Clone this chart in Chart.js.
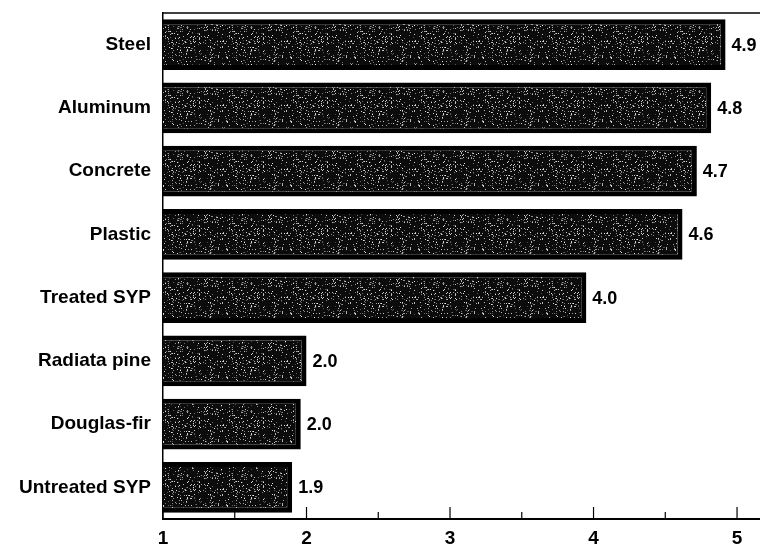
<!DOCTYPE html>
<html>
<head>
<meta charset="utf-8">
<script src="https://cdn.jsdelivr.net/npm/chart.js@4/dist/chart.umd.min.js"></script>
<style>
  html, body { margin: 0; padding: 0; background: #fff; }
  #wrap { width: 760px; height: 545px; }
</style>
</head>
<body>
<div id="wrap"><canvas id="materialsChart" width="760" height="545"></canvas></div>
<script>
// Data
const materials = ['Steel', 'Aluminum', 'Concrete', 'Plastic', 'Treated SYP', 'Radiata pine', 'Douglas-fir', 'Untreated SYP'];
const ratings = [4.92, 4.82, 4.72, 4.62, 3.95, 2.0, 1.96, 1.9];
const ratingLabels = ['4.9', '4.8', '4.7', '4.6', '4.0', '2.0', '2.0', '1.9'];
const majorTicks = [1, 2, 3, 4, 5];
const minorTicks = [1.5, 2.5, 3.5, 4.5];

const labelFont = { family: '"Liberation Sans", Arial, sans-serif', size: 19, weight: 'bold' };

// Stippled dark fill like the printed bars
function makeStipple() {
    const c = document.createElement('canvas');
    c.width = 64; c.height = 64;
    const g = c.getContext('2d');
    g.fillStyle = '#0c0c0c';
    g.fillRect(0, 0, 64, 64);
    let seed = 12345;
    function next() {
        seed = (seed * 1103515245 + 12345) & 0x7fffffff;
        return (seed >> 8) / 8388608;
    }
    for (let i = 0; i < 480; i++) {
        const x = Math.floor(next() * 64);
        const y = Math.floor(next() * 64);
        const shade = 70 + Math.floor(next() * 170);
        g.fillStyle = 'rgb(' + shade + ',' + shade + ',' + shade + ')';
        g.fillRect(x, y, 1, 1);
    }
    return g.createPattern(c, 'repeat');
}

const frameAndTicks = {
    id: 'frameAndTicks',
    afterDraw(chart) {
        const ctx = chart.ctx;
        const area = chart.chartArea;
        const x = chart.scales.x;
        ctx.save();
        ctx.strokeStyle = '#000';
        ctx.lineWidth = 1.5;
        ctx.beginPath();
        ctx.moveTo(area.left, area.top);
        ctx.lineTo(area.right, area.top);
        ctx.stroke();
        ctx.lineWidth = 1.2;
        majorTicks.forEach(v => {
            const px = x.getPixelForValue(v);
            ctx.beginPath();
            ctx.moveTo(px, area.bottom);
            ctx.lineTo(px, area.bottom - 12);
            ctx.stroke();
        });
        minorTicks.forEach(v => {
            const px = x.getPixelForValue(v);
            ctx.beginPath();
            ctx.moveTo(px, area.bottom);
            ctx.lineTo(px, area.bottom - 7);
            ctx.stroke();
        });
        ctx.restore();
    }
};

const valueLabels = {
    id: 'valueLabels',
    afterDatasetsDraw(chart) {
        const ctx = chart.ctx;
        const meta = chart.getDatasetMeta(0);
        ctx.save();
        ctx.fillStyle = '#000';
        ctx.font = 'bold 18px "Liberation Sans", Arial, sans-serif';
        ctx.textBaseline = 'middle';
        ctx.textAlign = 'left';
        meta.data.forEach((bar, i) => {
            ctx.fillText(ratingLabels[i], bar.x + 6, bar.y + 1);
        });
        ctx.restore();
    }
};

function initializeChart() {
    const ctx = document.getElementById('materialsChart').getContext('2d');
    new Chart(ctx, {
        type: 'bar',
        data: {
            labels: materials,
            datasets: [{
                data: ratings,
                backgroundColor: makeStipple(),
                borderColor: '#000',
                borderWidth: 5,
                borderSkipped: false,
                barPercentage: 0.8,
                categoryPercentage: 1
            }]
        },
        options: {
            indexAxis: 'y',
            responsive: false,
            animation: false,
            layout: { padding: { top: 13, right: 0, left: 0, bottom: 0 } },
            plugins: {
                legend: { display: false },
                tooltip: { enabled: false }
            },
            scales: {
                x: {
                    min: 1,
                    max: 5.16,
                    grid: { display: false, drawTicks: false },
                    border: { display: true, color: '#000', width: 2 },
                    ticks: {
                        stepSize: 1,
                        includeBounds: false,
                        color: '#000',
                        padding: 8,
                        font: labelFont
                    },
                    afterFit(scale) {
                        scale.height = 26;
                        scale.paddingLeft = 0;
                        scale.paddingRight = 0;
                    }
                },
                y: {
                    grid: { display: false, drawTicks: false },
                    border: { display: true, color: '#000', width: 1.5 },
                    ticks: { color: '#000', padding: 12, font: labelFont },
                    afterFit(scale) {
                        scale.width = 163;
                        scale.paddingTop = 0;
                        scale.paddingBottom = 0;
                    }
                }
            }
        },
        plugins: [frameAndTicks, valueLabels]
    });
}

document.addEventListener('DOMContentLoaded', initializeChart);
</script>
</body>
</html>
